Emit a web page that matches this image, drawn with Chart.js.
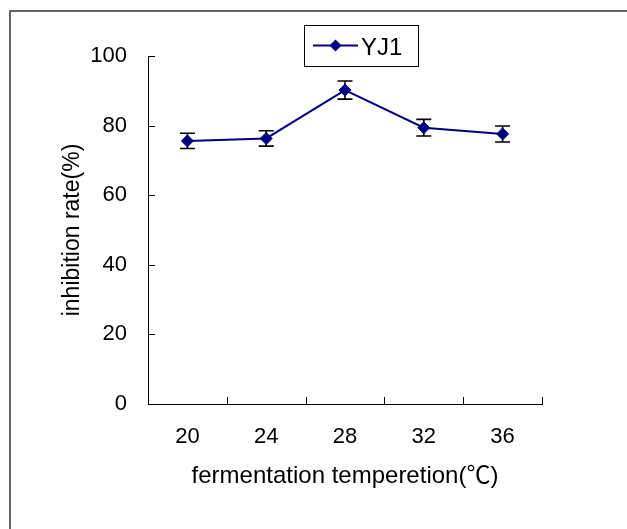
<!DOCTYPE html>
<html>
<head>
<meta charset="utf-8">
<script src="https://cdn.jsdelivr.net/npm/chart.js@4"></script>
<style>
  html, body { margin: 0; padding: 0; background: #fff; }
  #wrap { width: 627px; height: 529px; }
</style>
</head>
<body>
<div id="wrap"><canvas id="tempChart" width="627" height="529"></canvas></div>
<script>
// fermentation temperature vs inhibition rate
const temperatures = ['20', '24', '28', '32', '36'];
const inhibitionRates = [75.6, 76.3, 90.2, 79.4, 77.6];
const errorValues = [2.2, 2.2, 2.6, 2.4, 2.3];
const yTickValues = [0, 20, 40, 60, 80, 100];
const seriesName = 'YJ1';

const navy = '#000080';
const fontFamily = '"Liberation Sans", Arial, "Noto Sans CJK SC", sans-serif';

// outer frame of the figure
const framePlugin = {
    id: 'frame',
    beforeDraw(chart) {
        const ctx = chart.ctx;
        ctx.save();
        ctx.fillStyle = '#fff';
        ctx.fillRect(0, 0, chart.width, chart.height);
        ctx.strokeStyle = '#333';
        ctx.lineWidth = 1.5;
        ctx.strokeRect(10, 11, 700, 600);
        ctx.restore();
    }
};

// inward tick marks on both axes
const tickPlugin = {
    id: 'inwardTicks',
    afterDraw(chart) {
        const ctx = chart.ctx;
        const x = chart.scales.x, y = chart.scales.y;
        ctx.save();
        ctx.strokeStyle = '#000';
        ctx.lineWidth = 1;
        ctx.beginPath();
        yTickValues.forEach(v => {
            const py = Math.round(y.getPixelForValue(v)) + 0.5;
            ctx.moveTo(x.left, py);
            ctx.lineTo(x.left + 7, py);
        });
        const step = (x.right - x.left) / temperatures.length;
        for (let i = 0; i <= temperatures.length; i++) {
            const px = Math.round(x.left + i * step) + 0.5;
            ctx.moveTo(px, y.bottom);
            ctx.lineTo(px, y.bottom - 7);
        }
        ctx.stroke();
        ctx.restore();
    }
};

// vertical error bars with caps
const errorBarPlugin = {
    id: 'errorBars',
    beforeDatasetsDraw(chart) {
        const ctx = chart.ctx;
        const x = chart.scales.x, y = chart.scales.y;
        ctx.save();
        ctx.strokeStyle = '#000';
        ctx.lineWidth = 1.6;
        inhibitionRates.forEach((v, i) => {
            const px = x.getPixelForValue(i);
            const top = y.getPixelForValue(v + errorValues[i]);
            const bot = y.getPixelForValue(v - errorValues[i]);
            ctx.beginPath();
            ctx.moveTo(px, top); ctx.lineTo(px, bot);
            ctx.moveTo(px - 7.5, top); ctx.lineTo(px + 7.5, top);
            ctx.moveTo(px - 7.5, bot); ctx.lineTo(px + 7.5, bot);
            ctx.stroke();
        });
        ctx.restore();
    }
};

// boxed legend: line + diamond + name
const legendPlugin = {
    id: 'boxLegend',
    afterDraw(chart) {
        const ctx = chart.ctx;
        ctx.save();
        ctx.strokeStyle = '#000';
        ctx.lineWidth = 1;
        ctx.strokeRect(304.5, 25.5, 114, 41);
        ctx.strokeStyle = navy;
        ctx.lineWidth = 2;
        ctx.beginPath();
        ctx.moveTo(313, 45.5);
        ctx.lineTo(358, 45.5);
        ctx.stroke();
        ctx.fillStyle = navy;
        ctx.beginPath();
        ctx.moveTo(335.5, 39.5);
        ctx.lineTo(341.5, 45.5);
        ctx.lineTo(335.5, 51.5);
        ctx.lineTo(329.5, 45.5);
        ctx.closePath();
        ctx.fill();
        ctx.fillStyle = '#000';
        ctx.font = '24px ' + fontFamily;
        ctx.textBaseline = 'middle';
        ctx.fillText(seriesName, 361, 48);
        ctx.restore();
    }
};

new Chart(document.getElementById('tempChart'), {
    type: 'line',
    data: {
        labels: temperatures,
        datasets: [{
            label: seriesName,
            data: inhibitionRates,
            borderColor: navy,
            backgroundColor: navy,
            borderWidth: 2,
            pointStyle: 'rectRot',
            pointRadius: 6,
            pointBorderWidth: 1,
            fill: false,
            tension: 0
        }]
    },
    options: {
        responsive: false,
        animation: false,
        layout: { padding: { top: 56, right: 85, bottom: 0, left: 0 } },
        plugins: {
            legend: { display: false },
            tooltip: { enabled: false }
        },
        scales: {
            x: {
                offset: true,
                grid: { display: false, drawTicks: false },
                border: { display: true, color: '#000', width: 1 },
                ticks: { color: '#000', padding: 20, maxRotation: 0, font: { family: fontFamily, size: 22 } },
                title: {
                    display: true,
                    text: 'fermentation temperetion(℃)',
                    color: '#000',
                    font: { family: fontFamily, size: 24 },
                    padding: { top: 0, bottom: 38 }
                },
                afterFit: s => { s.height = 125; }
            },
            y: {
                min: 0,
                max: 100,
                grid: { display: false, drawTicks: false },
                border: { display: true, color: '#000', width: 1 },
                ticks: { stepSize: 20, color: '#000', padding: 21, font: { family: fontFamily, size: 22 } },
                title: {
                    display: true,
                    text: 'inhibition rate(%)',
                    color: '#000',
                    font: { family: fontFamily, size: 23 },
                    padding: { top: 59, bottom: 0 }
                },
                afterFit: s => { s.width = 148; }
            }
        }
    },
    plugins: [framePlugin, errorBarPlugin, tickPlugin, legendPlugin]
});
</script>
</body>
</html>
